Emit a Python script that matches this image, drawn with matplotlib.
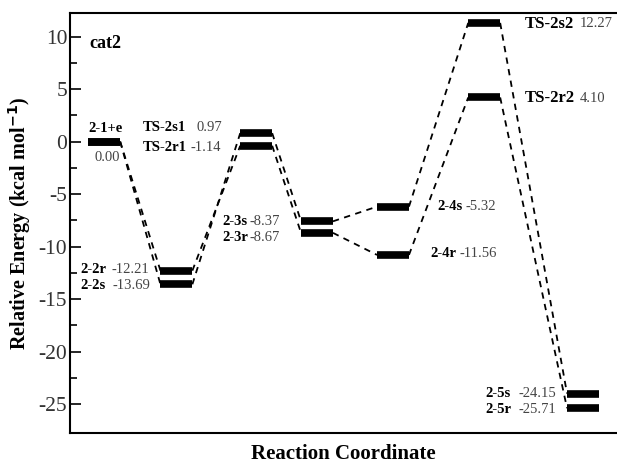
import matplotlib.pyplot as plt
import numpy as np

plt.rcParams['font.family'] = ['Liberation Serif', 'DejaVu Serif']
plt.rcParams['axes.unicode_minus'] = False

# stage positions along the reaction coordinate
stage_x = [0.45, 1.40, 2.45, 3.25, 4.25, 5.45, 6.75]

# s pathway / r pathway species
names_s = ['2-1+e', '2-2s', 'TS-2s1', '2-3s', '2-4s', 'TS-2s2', '2-5s']
names_r = ['2-1+e', '2-2r', 'TS-2r1', '2-3r', '2-4r', 'TS-2r2', '2-5r']
energy_s = [0.00, -13.69, 0.97, -8.37, -5.32, 12.27, -24.15]
energy_r = [0.00, -12.21, -1.14, -8.67, -11.56, 4.10, -25.71]
# level heights as drawn in the figure
level_s = [0.0, -13.6, 0.8, -7.6, -6.2, 11.3, -24.0]
level_r = [0.0, -12.3, -0.4, -8.7, -10.8, 4.2, -25.4]

half = 0.21

fig = plt.figure(figsize=(6.17, 4.63), dpi=100)
ax = fig.add_axes([70/617, 30/463, 1 - 70/617, 420/463])

for lev in (level_s, level_r):
    for i, x in enumerate(stage_x):
        ax.plot([x - half, x + half], [lev[i], lev[i]], color='black', lw=5.5,
                solid_capstyle='butt', zorder=3)
    for i in range(len(stage_x) - 1):
        ax.plot([stage_x[i] + half, stage_x[i + 1] - half], [lev[i], lev[i + 1]],
                color='black', lw=1.3, ls=(0, (3.5, 3)), zorder=2)

bold = dict(fontsize=10.5, fontweight='bold', color='black', va='center')
reg = dict(fontsize=10.5, color='#444444', va='center')

def lab(xn, xv, y, name, val, size=10.5):
    ax.text(xn, y, name, **{**bold, 'fontsize': size})
    ax.text(xv, y, val, **reg)

ax.text(0.24, 1.2, '2-1+e', **bold)
ax.text(0.66, -1.5, '%.2f' % energy_s[0], ha='right', **reg)
lab(0.96, 1.67, 1.3, names_s[2], '%.2f' % energy_s[2])
lab(0.96, 1.58, -0.6, names_r[2], '%.2f' % energy_r[2])
lab(0.13, 0.55, -12.2, names_r[1], '%.2f' % energy_r[1])
lab(0.13, 0.56, -13.7, names_s[1], '%.2f' % energy_s[1])
lab(2.01, 2.36, -7.6, names_s[3], '%.2f' % energy_s[3])
lab(2.01, 2.36, -9.1, names_r[3], '%.2f' % energy_r[3])
lab(4.83, 5.20, -6.2, names_s[4], '%.2f' % energy_s[4])
lab(4.74, 5.13, -10.7, names_r[4], '%.2f' % energy_r[4])
lab(5.98, 6.71, 11.2, names_s[5], '%.2f' % energy_s[5], size=12)
lab(5.98, 6.71, 4.1, names_r[5], '%.2f' % energy_r[5], size=12)
lab(5.47, 5.90, -24.0, names_s[6], '%.2f' % energy_s[6])
lab(5.47, 5.90, -25.5, names_r[6], '%.2f' % energy_r[6])
ax.text(0.25, 9.3, 'cat2', fontsize=13, fontweight='bold', va='center')

ax.set_xlim(0, 547/76)
ax.set_ylim(-27.76, 12.24)
ax.set_xticks([])
ax.set_yticks(np.arange(-25, 11, 5))
ax.set_yticks(np.arange(-22.5, 12, 2.5), minor=True)
ax.tick_params(axis='y', which='major', direction='in', length=8, width=1.2,
               labelsize=15.5, labelcolor='#333333', pad=2)
ax.tick_params(axis='y', which='minor', direction='in', length=5, width=1.2)
for s in ('left', 'top', 'bottom'):
    ax.spines[s].set_linewidth(1.5)
ax.spines['right'].set_visible(False)

ax.set_ylabel('Relative Energy (kcal mol$^{\\mathbf{-1}}$)', fontsize=14.5,
              fontweight='bold', labelpad=4)
ax.set_xlabel('Reaction Coordinate', fontsize=15, fontweight='bold', labelpad=8)

fig.savefig('out.png', dpi=100)
